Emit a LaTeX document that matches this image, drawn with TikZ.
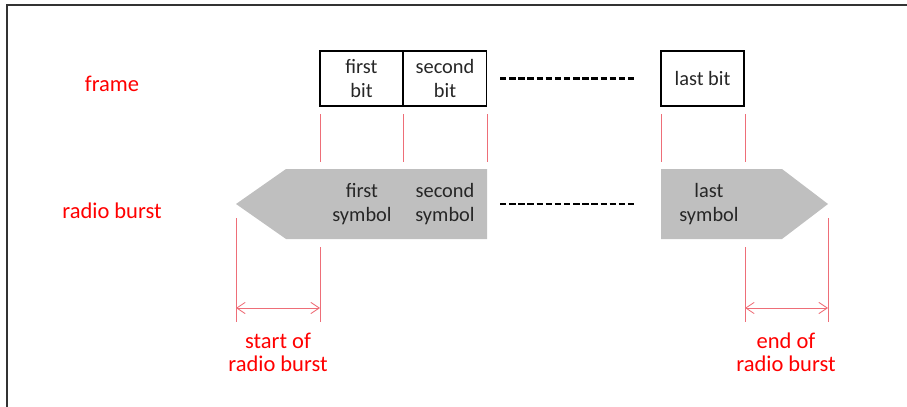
\documentclass[tikz,border=0pt]{standalone}
\usepackage{fontspec}
\setmainfont{Carlito}
\usetikzlibrary{arrows.meta}
\definecolor{burstgray}{RGB}{191,191,191}
\definecolor{guidered}{RGB}{238,110,120}
\def\Wmax{907}
\def\Hmax{407}

\begin{document}
\begin{tikzpicture}[x=0.025cm,y=-0.025cm,
    bitbox/.style={draw,line width=0.8pt,minimum width=2.075cm,minimum height=1.375cm,
      inner sep=0pt,align=center,text=black!85,font=\fontsize{14.5}{17}\selectfont},
    symtext/.style={align=center,text=black!85,font=\fontsize{14.5}{17}\selectfont},
    redtext/.style={align=center,text=red,font=\fontsize{16}{16.5}\selectfont},
    guide/.style={guidered,line width=0.6pt},
    dimline/.style={guide,{Straight Barb[length=6pt,width=8pt]}-{Straight Barb[length=6pt,width=8pt]}},
    gapline/.style={line width=1.6pt,dash pattern=on 4.6pt off 1.9pt}]
        %
        \useasboundingbox (0,0) rectangle (\Wmax,\Hmax);
        \draw[line width=1.6pt,black!80] (7,\Hmax) -- (7,5) -- (\Wmax,5);
        %
        % frame
        \node[redtext] (frame) at (112,84) {frame};
        \node[bitbox] (first bit) at (361.5,78.5) {first\\bit};
        \node[bitbox] (second bit) at (445,78.5) {second\\bit};
        \node[bitbox] (last bit) at (702.5,78.5) {last bit};
        \coordinate (frame gap a) at (500,78.5);
        \coordinate (frame gap b) at (637,78.5);
        \draw[gapline] (frame gap a) -- (frame gap b);
        %
        \foreach \x in {320,403,487,661,745} \draw[guide] (\x,114) -- (\x,162);
        %
        % radio burst
        \node[redtext] (burst) at (112,211) {radio burst};
        \fill[burstgray] (236,204) -- (286,169) -- (487,169) -- (487,239) -- (286,239) -- cycle; % head
        \fill[burstgray] (661,169) -- (782,169) -- (828,204) -- (782,239) -- (661,239) -- cycle; % tail
        \node[symtext] (first symbol) at (362,204) {first\\symbol};
        \node[symtext] (second symbol) at (445,204) {second\\symbol};
        \node[symtext] (last symbol) at (709,204) {last\\symbol};
        \coordinate (burst gap a) at (500,204);
        \coordinate (burst gap b) at (637,204);
        \draw[gapline] (burst gap a) -- (burst gap b);
        %
        \draw[guide] (236,218) -- (236,322);
        \draw[guide] (320,247) -- (320,322);
        \draw[guide] (745,247) -- (745,322);
        \draw[guide] (828,218) -- (828,322);
        \coordinate (start a) at (236,308);
        \coordinate (start b) at (320,308);
        \coordinate (end a) at (745,308);
        \coordinate (end b) at (828,308);
        \draw[dimline] (start a) -- (start b);
        \draw[dimline] (end a) -- (end b);
        \node[redtext] (start) at (278,352) {start of\\radio burst};
        \node[redtext] (end) at (786,352) {end of\\radio burst};
\end{tikzpicture}
\end{document}
